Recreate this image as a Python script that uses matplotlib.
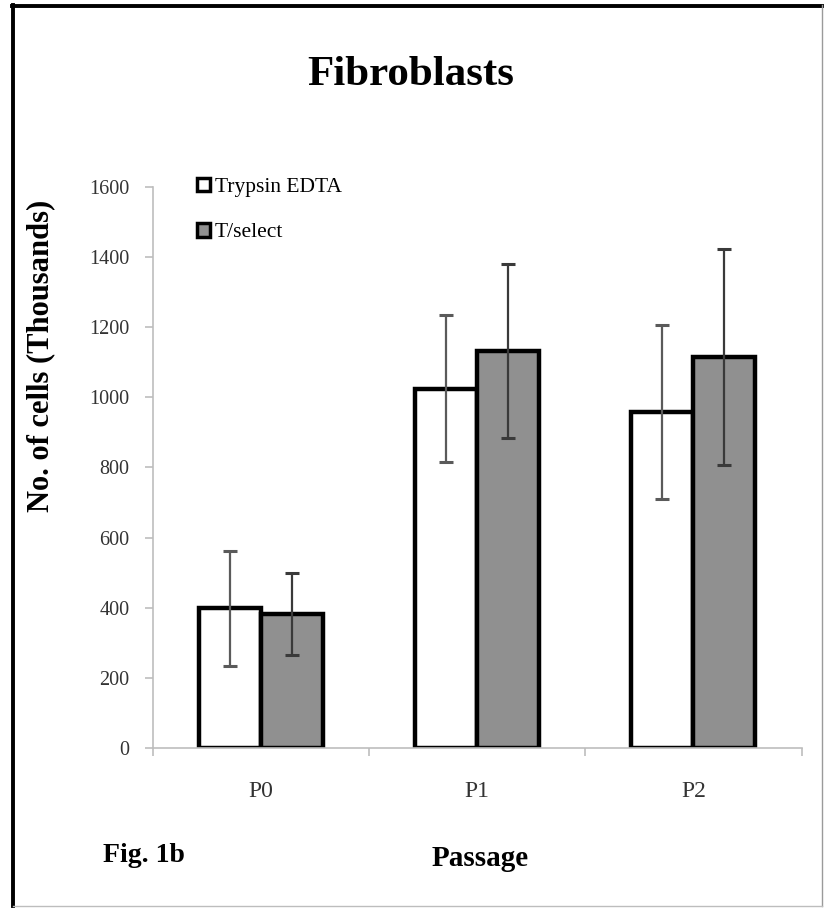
import matplotlib
matplotlib.use("Agg")
import matplotlib.pyplot as plt
from matplotlib.lines import Line2D
from matplotlib.patches import Patch
import numpy as np

passages = ["P0", "P1", "P2"]
trypsin_vals = [398, 1025, 957]
trypsin_err = [163, 210, 248]
tselect_vals = [382, 1132, 1115]
tselect_err = [117, 248, 308]
series_names = ["Trypsin EDTA", "T/select"]
y_ticks = [0, 200, 400, 600, 800, 1000, 1200, 1400, 1600]

plt.rcParams["font.family"] = ["Liberation Serif", "DejaVu Serif"]

fig = plt.figure(figsize=(8.24, 9.09), dpi=100)
fig.patch.set_facecolor("white")
ax = fig.add_axes([0.1857, 0.1771, 0.787, 0.6172])

x = np.arange(len(passages))
w = 0.287
axis_grey = "#bdbdbd"

ax.bar(x - w / 2, trypsin_vals, w, color="white", edgecolor="black", linewidth=3.2, zorder=2)
ax.bar(x + w / 2, tselect_vals, w, color="#909090", edgecolor="black", linewidth=3.2, zorder=2)
ax.errorbar(x - w / 2, trypsin_vals, yerr=trypsin_err, fmt="none", ecolor="#5a5a5a",
            elinewidth=1.6, capsize=5, capthick=2.2, zorder=3)
ax.errorbar(x + w / 2, tselect_vals, yerr=tselect_err, fmt="none", ecolor="#3a3a3a",
            elinewidth=1.6, capsize=5, capthick=2.2, zorder=3)

ax.set_xlim(-0.5, 2.5)
ax.set_ylim(0, 1600)
ax.set_yticks(y_ticks)
ax.set_yticklabels([str(v) for v in y_ticks], fontsize=14.5, color="#333333")
ax.set_xticks(x)
ax.set_xticklabels(passages, fontsize=17, color="#333333")
ax.set_xticks([-0.5, 0.5, 1.5, 2.5], minor=True)
ax.tick_params(axis="x", which="major", length=0, pad=24)
ax.tick_params(axis="x", which="minor", length=6, color=axis_grey, width=1.2, direction="out")
ax.tick_params(axis="y", length=6, color=axis_grey, width=1.2, direction="out", pad=11)

for side in ["top", "right"]:
    ax.spines[side].set_visible(False)
for side in ["left", "bottom"]:
    ax.spines[side].set_color(axis_grey)
    ax.spines[side].set_linewidth(1.2)

handles = [Patch(facecolor="white", edgecolor="black", linewidth=2.5),
           Patch(facecolor="#909090", edgecolor="black", linewidth=2.5)]
ax.legend(handles, series_names, loc="upper left", bbox_to_anchor=(0.054, 1.032),
          frameon=False, fontsize=15.5, handlelength=0.6, handleheight=0.6,
          handletextpad=0.25, labelspacing=1.2, borderaxespad=0)

fig.text(0.498, 0.918, "Fibroblasts", ha="center", va="center", fontsize=31, fontweight="bold")
fig.text(0.049, 0.609, "No. of cells (Thousands)", ha="center", va="center", rotation=90,
         fontsize=22, fontweight="bold")
fig.text(0.583, 0.056, "Passage", ha="center", va="center", fontsize=21, fontweight="bold")
fig.text(0.125, 0.059, "Fig. 1b", ha="left", va="center", fontsize=20, fontweight="bold")

# frame around the whole picture
fig.add_artist(Line2D([0.016, 0.016], [0.003, 0.994], transform=fig.transFigure, color="black", linewidth=2.8))
fig.add_artist(Line2D([0.014, 0.998], [0.993, 0.993], transform=fig.transFigure, color="black", linewidth=2.8))
fig.add_artist(Line2D([0.997, 0.997], [0.003, 0.994], transform=fig.transFigure, color="#9a9a9a", linewidth=1.0))
fig.add_artist(Line2D([0.016, 0.998], [0.003, 0.003], transform=fig.transFigure, color="#bdbdbd", linewidth=1.0))

fig.savefig("out.png", dpi=100, facecolor="white")
